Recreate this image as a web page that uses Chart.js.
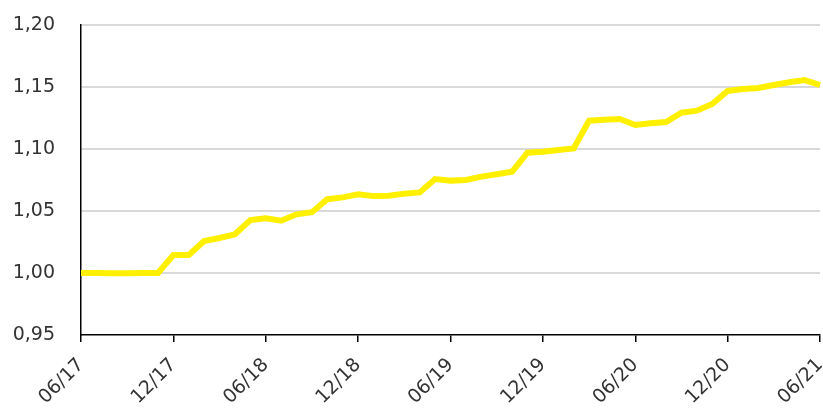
<!DOCTYPE html>
<html>
<head>
<meta charset="utf-8">
<script src="https://cdn.jsdelivr.net/npm/chart.js@4/dist/chart.umd.min.js"></script>
<style>
    html, body { margin: 0; padding: 0; background: #fff; }
    #wrap { width: 823px; height: 410px; }
</style>
</head>
<body>
<div id="wrap"><canvas id="indexChart"></canvas></div>
<script>
// Месяцы (мм/гг)
const months = [
    '06/17', '07/17', '08/17', '09/17', '10/17', '11/17', '12/17',
    '01/18', '02/18', '03/18', '04/18', '05/18', '06/18', '07/18', '08/18', '09/18', '10/18', '11/18', '12/18',
    '01/19', '02/19', '03/19', '04/19', '05/19', '06/19', '07/19', '08/19', '09/19', '10/19', '11/19', '12/19',
    '01/20', '02/20', '03/20', '04/20', '05/20', '06/20', '07/20', '08/20', '09/20', '10/20', '11/20', '12/20',
    '01/21', '02/21', '03/21', '04/21', '05/21', '06/21'
];

// Значение индекса по месяцам
const indexValues = [
    1.000, 1.000, 0.9998, 0.9998, 1.000, 1.000, 1.0145,
    1.0145, 1.0258, 1.0282, 1.0312, 1.0427, 1.0441, 1.0422, 1.0473, 1.049, 1.0595, 1.061, 1.0635,
    1.062, 1.0623, 1.064, 1.065, 1.0758, 1.0745, 1.075, 1.0777, 1.0796, 1.0817, 1.097, 1.0978,
    1.0992, 1.1005, 1.1228, 1.1236, 1.1242, 1.1194, 1.1207, 1.1218, 1.1293, 1.1309, 1.1363, 1.1468,
    1.1484, 1.1492, 1.1516, 1.1538, 1.1556, 1.1516
];

// Шкала Y
const yMin = 0.95;
const yMax = 1.20;
const yStep = 0.05;

// Подпись по оси X каждые полгода
const labelEvery = 6;

const tickFont = { family: 'DejaVu Sans', size: 19 };

const ctx = document.getElementById('indexChart').getContext('2d');
new Chart(ctx, {
    type: 'line',
    data: {
        labels: months,
        datasets: [{
            data: indexValues,
            borderColor: 'rgb(255, 240, 0)',
            borderWidth: 6,
            pointRadius: 0,
            tension: 0,
            fill: false
        }]
    },
    options: {
        responsive: true,
        maintainAspectRatio: false,
        animation: false,
        layout: { padding: { top: 25, right: 3, left: 6, bottom: 0 } },
        plugins: {
            legend: { display: false },
            tooltip: { enabled: false }
        },
        scales: {
            x: {
                offset: false,
                border: { display: true, color: '#000', width: 1.5 },
                grid: {
                    offset: false,
                    drawOnChartArea: false,
                    drawTicks: true,
                    tickLength: 7,
                    color: '#000',
                    lineWidth: 1.5
                },
                ticks: {
                    autoSkip: false,
                    maxRotation: 45,
                    minRotation: 45,
                    color: '#333',
                    font: tickFont,
                    padding: 12,
                    callback: function(value, index) {
                        return index % labelEvery === 0 ? months[index] : null;
                    }
                },
                afterFit: function(scale) {
                    scale.height = 75;
                    scale.paddingLeft = 0;
                    scale.paddingRight = 0;
                }
            },
            y: {
                min: yMin,
                max: yMax,
                border: { display: true, color: '#000', width: 1.5 },
                grid: {
                    drawTicks: false,
                    color: function(c) {
                        return c.index === 0 ? 'rgba(0,0,0,0)' : '#d9d9d9';
                    },
                    lineWidth: 2
                },
                ticks: {
                    stepSize: yStep,
                    color: '#333',
                    font: tickFont,
                    padding: 26,
                    callback: function(value) {
                        return value.toFixed(2).replace('.', ',');
                    }
                },
                afterFit: function(scale) {
                    scale.width = 75;
                    scale.paddingTop = 0;
                    scale.paddingBottom = 0;
                }
            }
        }
    }
});
</script>
</body>
</html>
